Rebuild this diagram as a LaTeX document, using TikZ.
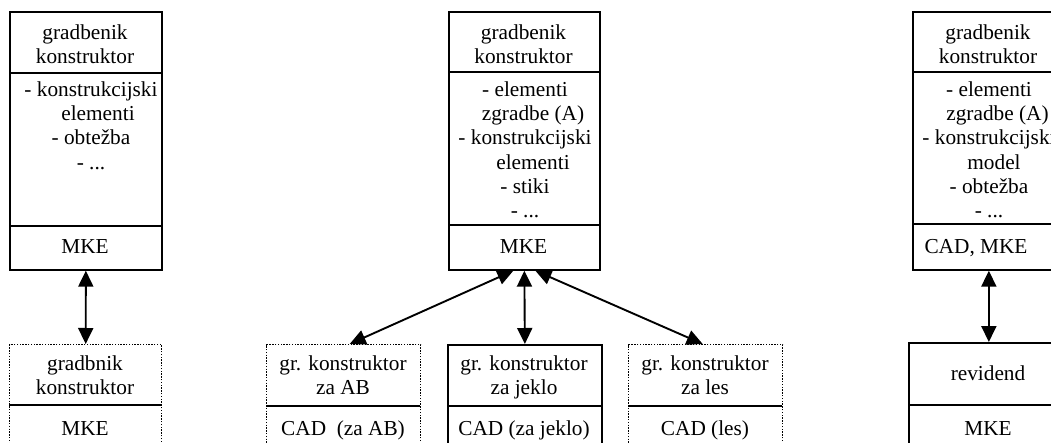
\documentclass[tikz,border=0pt]{standalone}
\usepackage{fontspec}
\setmainfont{Liberation Serif}
\usetikzlibrary{arrows.meta}
\tikzset{
  frame/.style={draw, line width=1.7pt, inner sep=0pt, anchor=north west},
  dotframe/.style={frame, line width=1.4pt, dash pattern=on 1.4pt off 1.4pt},
  divider/.style={line width=1.7pt},
  txt/.style={align=center, inner sep=0pt, font=\fontsize{21.3}{24.2}\selectfont},
  link/.style={line width=1.9pt, {Triangle[length=16pt,width=15pt]}-{Triangle[length=16pt,width=15pt]}}
}
\begin{document}
\begin{tikzpicture}[x=1pt,y=-1pt]
\useasboundingbox (0,0) rectangle (1051,443);
\clip (0,0) rectangle (1051,443);
% ---------------- left column
\node[frame, minimum width=152pt, minimum height=258pt] (L1) at (9,11) {};
\draw[divider] (9,73) -- (161,73);
\draw[divider] (9,226) -- (161,226);
\node[txt, anchor=north] (L1h) at (85,24.5) {gradbenik\\konstruktor};
\node[txt, anchor=north] (L1b) at (91,81.5) {- konstrukcijski\\\hspace*{14pt}elementi\\- obtežba\\- ...};
\node[txt, anchor=base] (L1f) at (85,254) {MKE};

\node[dotframe, minimum width=152pt, minimum height=116pt] (L2) at (9,344) {};
\draw[divider] (9,405) -- (161,405);
\node[txt, anchor=north] (L2h) at (85,355.5) {gradbnik\\konstruktor};
\node[txt, anchor=base] (L2f) at (85,435) {MKE};

\draw[link] (L1.south) -- (L2.north);

% ---------------- middle column
\node[frame, minimum width=151pt, minimum height=258pt] (M1) at (448,11) {};
\draw[divider] (448,72) -- (599,72);
\draw[divider] (448,225) -- (599,225);
\node[txt, anchor=north] (M1h) at (523.5,24.5) {gradbenik\\konstruktor};
\node[txt, anchor=north] (M1b) at (525,81.5) {- elementi\\\hspace*{16pt}zgradbe (A)\\- konstrukcijski\\\hspace*{16pt}elementi\\- stiki\\- ...};
\node[txt, anchor=base] (M1f) at (523.5,254) {MKE};

\node[dotframe, minimum width=154pt, minimum height=116pt] (MA) at (266,344) {};
\draw[divider] (266,406) -- (420,406);
\node[txt, anchor=north] (MAh) at (343,355.5) {gr. konstruktor\\za AB};
\node[txt, anchor=base] (MAf) at (343,435) {CAD\ \ (za AB)};

\node[frame, minimum width=154pt, minimum height=116pt] (MJ) at (447,344) {};
\draw[divider] (447,406) -- (601,406);
\node[txt, anchor=north] (MJh) at (524,355.5) {gr. konstruktor\\za jeklo};
\node[txt, anchor=base] (MJf) at (524,435) {CAD (za jeklo)};

\node[dotframe, minimum width=154pt, minimum height=116pt] (ML) at (628,344) {};
\draw[divider] (628,406) -- (782,406);
\node[txt, anchor=north] (MLh) at (705,355.5) {gr. konstruktor\\za les};
\node[txt, anchor=base] (MLf) at (705,435) {CAD (les)};

\draw[link] ([xshift=-11pt]M1.south) -- ([xshift=6pt]MA.north);
\draw[link] (M1.south) -- (MJ.north);
\draw[link] ([xshift=11pt]M1.south) -- ([xshift=-3pt]ML.north);

% ---------------- right column
\node[frame, minimum width=152pt, minimum height=258pt] (R1) at (912,11) {};
\draw[divider] (912,72) -- (1064,72);
\draw[divider] (912,224) -- (1064,224);
\node[txt, anchor=north] (R1h) at (988,24.5) {gradbenik\\konstruktor};
\node[txt, anchor=north] (R1b) at (989,81.5) {- elementi\\\hspace*{17pt}zgradbe (A)\\- konstrukcijski\\\hspace*{10pt}model\\- obtežba\\- ...};
\node[txt, anchor=base] (R1f) at (976,254) {CAD, MKE};

\node[frame, minimum width=160pt, minimum height=118pt] (R2) at (908,342) {};
\draw[divider] (908,405) -- (1068,405);
\node[txt, anchor=base] (R2h) at (988,380) {revidend};
\node[txt, anchor=base] (R2f) at (988,435) {MKE};

\draw[link] (R1.south) -- (R2.north);
\end{tikzpicture}
\end{document}
